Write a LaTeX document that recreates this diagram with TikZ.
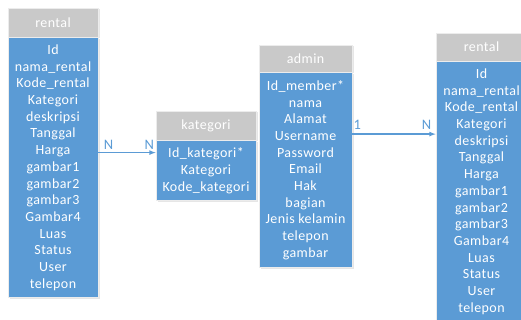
\documentclass[tikz,border=0pt]{standalone}
\usepackage{fontspec}
\setmainfont[LetterSpace=3]{Carlito}
\usetikzlibrary{positioning,shadows}
\definecolor{tabblue}{HTML}{5B9BD5}
\definecolor{tabgray}{HTML}{C9C9C9}
\begin{document}
\begin{tikzpicture}[>=latex,x=1pt,y=-1pt,
    tabhead/.style={fill=tabgray,draw=white!85!gray,line width=0.6pt,text=white,inner sep=0pt,
      font=\fontsize{14}{16.7}\selectfont,drop shadow={opacity=0.2,shadow xshift=1.5pt,shadow yshift=-1.5pt}},
    tabbody/.style={fill=tabblue,draw=white!85!gray,line width=0.6pt,text=white,inner sep=0pt,align=center,
      font=\fontsize{14}{16.7}\selectfont,drop shadow={opacity=0.2,shadow xshift=1.5pt,shadow yshift=-1.5pt}},
    link/.style={->,draw=tabblue,line width=1.2pt},
    card/.style={text=tabblue,font=\fontsize{14.5}{16}\selectfont,inner sep=0pt}]
  \useasboundingbox (0,0) rectangle (521,320);
  \clip (0,0) rectangle (521,320);
  % tabel rental (kiri)
  \node[tabhead,minimum width=90pt,minimum height=29pt] (rentalA) at (53,22.5) {rental};
  \node[tabbody,minimum width=90pt,minimum height=260pt,below=0pt of rentalA] (rentalAbody)
    {Id\\nama\_rental\\Kode\_rental\\Kategori\\deskripsi\\Tanggal\\Harga\\gambar1\\gambar2\\gambar3\\Gambar4\\Luas\\Status\\User\\telepon};
  % tabel kategori
  \node[tabhead,minimum width=100pt,minimum height=29pt] (kategori) at (206,125.5) {kategori};
  \node[tabbody,minimum width=100pt,minimum height=60pt,below=0pt of kategori] (kategoribody)
    {Id\_kategori*\\Kategori\\Kode\_kategori};
  % tabel admin
  \node[tabhead,minimum width=93pt,minimum height=27pt] (admin) at (305.5,58.5) {admin};
  \node[tabbody,minimum width=93pt,minimum height=195pt,below=0pt of admin] (adminbody)
    {Id\_member*\\nama\\Alamat\\Username\\Password\\Email\\Hak\\bagian\\Jenis kelamin\\telepon\\gambar};
  % tabel rental (kanan)
  \node[tabhead,minimum width=91pt,minimum height=28pt] (rentalB) at (481.5,47) {rental};
  \node[tabbody,minimum width=91pt,minimum height=260pt,below=0pt of rentalB] (rentalBbody)
    {Id\\nama\_rental\\Kode\_rental\\Kategori\\deskripsi\\Tanggal\\Harga\\gambar1\\gambar2\\gambar3\\Gambar4\\Luas\\Status\\User\\telepon};
  % relasi
  \coordinate (katin) at ([yshift=18pt]kategoribody.west);
  \draw[link] (rentalAbody.east |- katin) -- (katin)
    node[card,pos=0.18,above=2pt] {N} node[card,pos=0.89,above=2pt] {N};
  \coordinate (adminout) at ([yshift=36pt]adminbody.east);
  \draw[link] (adminout) -- (rentalBbody.west |- adminout)
    node[card,pos=0.06,above=4pt] {1} node[card,pos=0.89,above=4pt] {N};
\end{tikzpicture}
\end{document}
